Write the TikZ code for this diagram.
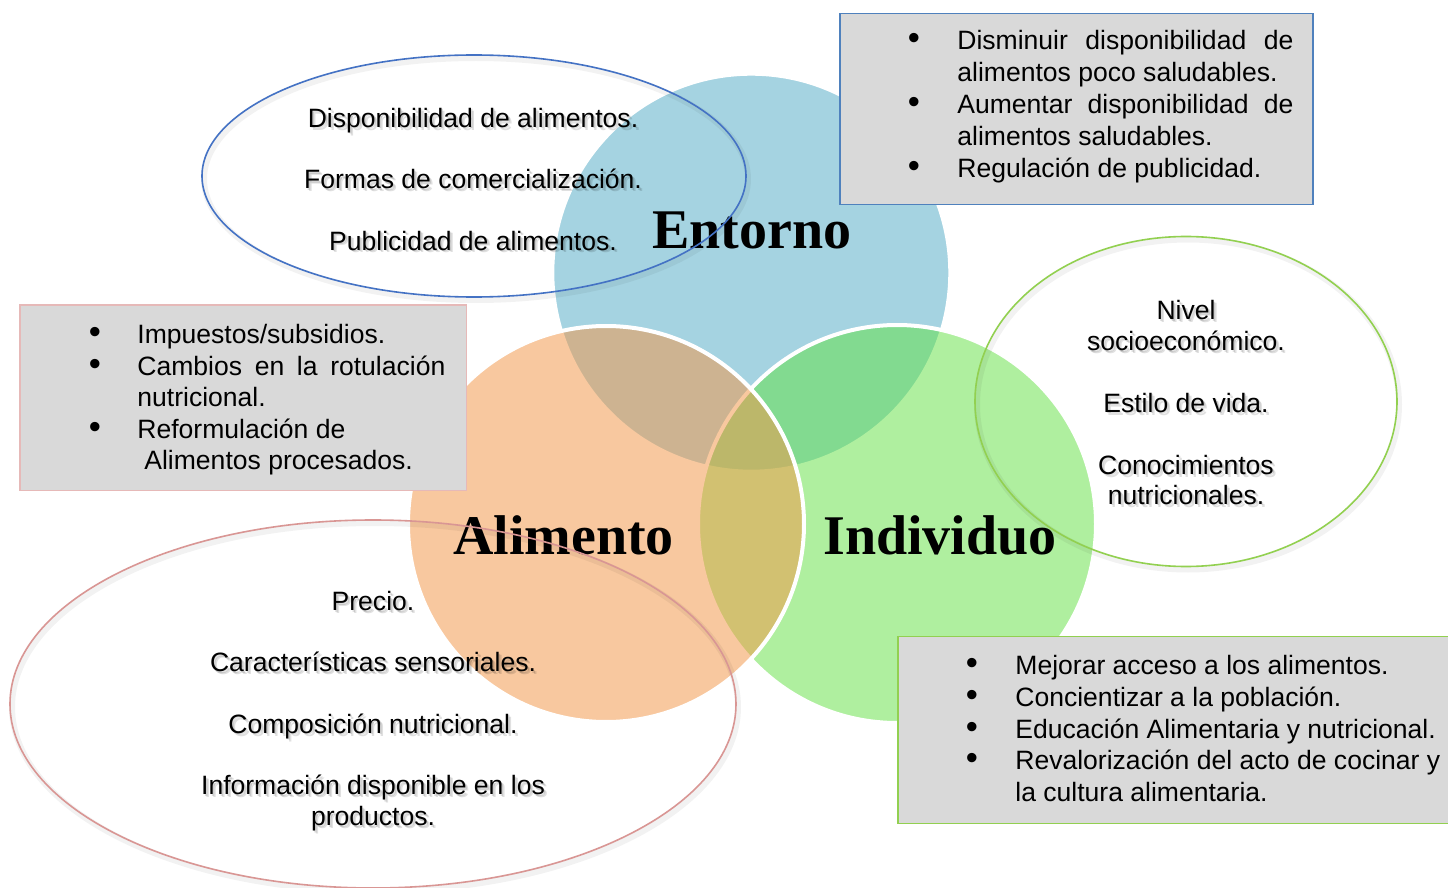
\documentclass[tikz,border=0pt]{standalone}
\usepackage{fontspec}
\setmainfont{Liberation Sans}
\newfontfamily\titlefont{Liberation Serif}
\definecolor{cblue}{RGB}{77,169,197}
\definecolor{corange}{RGB}{243,151,72}
\definecolor{cgreen}{RGB}{97,225,65}
\definecolor{eblue}{RGB}{68,114,196}
\definecolor{egreen}{RGB}{146,208,80}
\definecolor{epink}{RGB}{217,150,148}
\definecolor{bblue}{RGB}{79,129,189}
\definecolor{bpink}{RGB}{230,185,184}
\definecolor{bgreen}{RGB}{146,208,80}
\definecolor{boxgray}{RGB}{217,217,217}
\newcommand{\shd}[1]{%
  \makebox[0pt][l]{\hspace{0.75pt}\raisebox{-0.75pt}{\pgfsetfillopacity{0.12}#1}}%
  \makebox[0pt][l]{\hspace{1.5pt}\raisebox{-1.5pt}{\pgfsetfillopacity{0.12}#1}}%
  \pgfsetfillopacity{1}#1}
\newcommand{\shtext}[4]{%
  \node[body] (#1) at (#2,#3) {\shd{#4}};}
\newcommand{\bline}[4]{%
  \node[bodyw] (#1) at (#2,#3) {#4};}
\newcommand{\bdot}[3]{%
  \node[body] (#1) at (#2,#3) {\scalebox{1.3}{\textbullet}};}
\begin{document}
\begin{tikzpicture}[x=0.5pt,y=-0.5pt,
  venn/.style={draw=white, line width=2pt, fill=#1, fill opacity=0.5},
  oval/.style={draw=#1, line width=0.8pt},
  ovalshadow/.style={draw=black, draw opacity=0.05, line width=3pt},
  listbox/.style={draw=#1, line width=0.75pt, fill=boxgray},
  body/.style={font=\fontsize{13.27pt}{15.35pt}\selectfont, inner sep=0pt, anchor=base},
  bodyw/.style={body, anchor=base west},
  vtitle/.style={font=\titlefont\bfseries\fontsize{28pt}{30pt}\selectfont, inner sep=0pt, anchor=base}]
\useasboundingbox (0,0) rectangle (1448,888);
\fill[white] (0,0) rectangle (1448,888);

% Venn circles
\path[venn=cblue] (751.3,272.7) ellipse [x radius=199, y radius=199];
\path[venn=cgreen] (897,524) ellipse [x radius=199, y radius=199];
\path[venn=corange, fill opacity=0.52] (606,524) ellipse [x radius=198, y radius=198];

% boxes
\draw[listbox=bblue] (840,13.3) rectangle (1313,204.5);
\draw[listbox=bpink] (20,305) rectangle (466.7,490.7);
\draw[listbox=bgreen] (898,636.7) rectangle (1460,823.7);

% box E text
\bdot{eb1}{914}{49.8}
\bdot{eb2}{914}{113.4}
\bdot{eb3}{914}{177.1}
\bline{e1}{957}{49.8}{\makebox[168pt][s]{Disminuir disponibilidad de}}
\bline{e2}{957}{81.6}{alimentos poco saludables.}
\bline{e3}{957}{113.4}{\makebox[168pt][s]{Aumentar disponibilidad de}}
\bline{e4}{957}{145.3}{alimentos saludables.}
\bline{e5}{957}{177.1}{Regulación de publicidad.}

% box A text
\bdot{ab1}{95}{343.7}
\bdot{ab2}{95}{375.2}
\bdot{ab3}{95}{438.2}
\bline{a1}{137}{343.7}{Impuestos/subsidios.}
\bline{a2}{137}{375.2}{\makebox[154pt][s]{Cambios en la rotulación}}
\bline{a3}{137}{406.7}{nutricional.}
\bline{a4}{137}{438.2}{Reformulación de}
\bline{a5}{144}{469.7}{Alimentos procesados.}

% box I text
\bdot{ib1}{972}{674.3}
\bdot{ib2}{972}{706.2}
\bdot{ib3}{972}{738}
\bdot{ib4}{972}{769.9}
\bline{i1}{1015}{674.3}{Mejorar acceso a los alimentos.}
\bline{i2}{1015}{706.2}{Concientizar a la población.}
\bline{i3}{1015}{738}{Educación Alimentaria y nutricional.}
\bline{i4}{1015}{769.9}{Revalorización del acto de cocinar y}
\bline{i5}{1015}{801.7}{la cultura alimentaria.}

% titles
\node[vtitle] (tEnt) at (752,248.3) {Entorno};
\node[vtitle] (tAli) at (563.5,554.5) {Alimento};
\node[vtitle] (tInd) at (940,554.5) {Individuo};

% ovals
\draw[ovalshadow] (476,179) ellipse [x radius=272, y radius=121];
\draw[oval=eblue] (474,176) ellipse [x radius=272, y radius=121];
\draw[ovalshadow] (1188,404.5) ellipse [x radius=211, y radius=165];
\draw[oval=egreen] (1186,401.5) ellipse [x radius=211, y radius=165];
\draw[ovalshadow] (375,707) ellipse [x radius=363, y radius=184];
\draw[oval=epink] (373,704) ellipse [x radius=363, y radius=184];

% oval texts
\shtext{o1}{473}{127.3}{Disponibilidad de alimentos.}
\shtext{o2}{473}{188.6}{Formas de comercialización.}
\shtext{o3}{473}{250}{Publicidad de alimentos.}
\shtext{g1}{1186}{320}{Nivel}
\shtext{g2}{1186}{350.7}{socioeconómico.}
\shtext{g3}{1186}{412.4}{Estilo de vida.}
\shtext{g4}{1186}{474}{Conocimientos}
\shtext{g5}{1186}{504.3}{nutricionales.}
\shtext{p1}{373}{610.7}{Precio.}
\shtext{p2}{373}{671.7}{Características sensoriales.}
\shtext{p3}{373}{733.2}{Composición nutricional.}
\shtext{p4}{373}{794.8}{Información disponible en los}
\shtext{p5}{373}{825.5}{productos.}
\end{tikzpicture}
\end{document}
